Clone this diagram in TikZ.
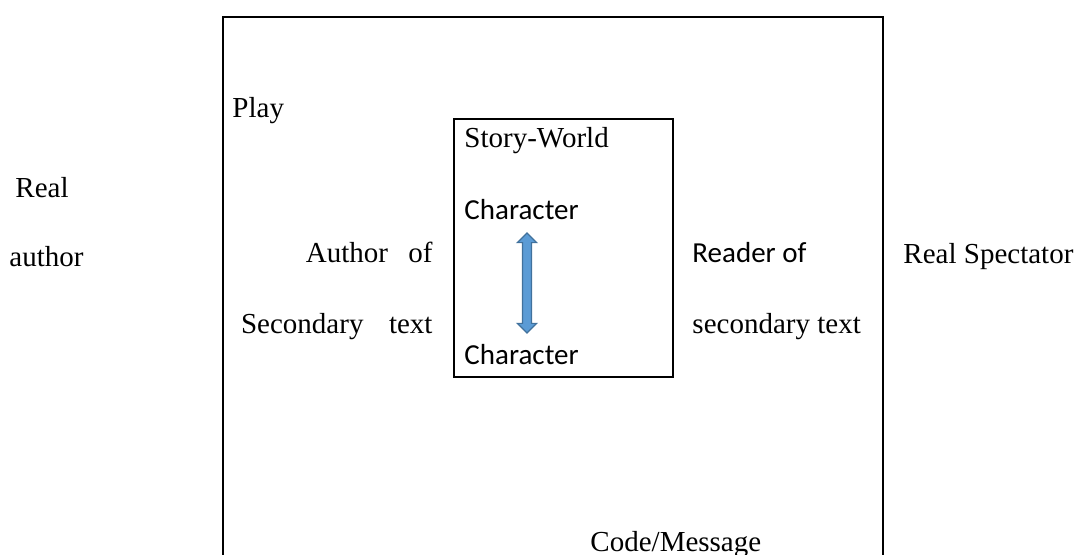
\documentclass[tikz,border=0pt]{standalone}
\usepackage{fontspec}
\setmainfont{Liberation Serif}
\newfontfamily\calibrifont{Carlito}
\usetikzlibrary{shapes.arrows}

\begin{document}
\begin{tikzpicture}[x=0.01454cm, y=-0.01454cm,
  every node/.style={font=\fontsize{12}{14}\selectfont, inner sep=0pt},
  txt/.style={anchor=base west},
  txtr/.style={anchor=base east},
  cal/.style={font=\fontsize{12}{14}\selectfont\calibrifont},
  frame/.style={draw=black, line width=0.8pt},
  link/.style={double arrow, rotate=90, draw=arrowEdge, fill=arrowFill,
    line width=0.5pt, inner xsep=0pt, inner ysep=1.65pt,
    minimum height=41.4pt, double arrow head extend=2.1pt}]

% Colori
\definecolor{arrowFill}{HTML}{5B9BD5}
\definecolor{arrowEdge}{HTML}{41719C}

% Area della figura
\useasboundingbox (0,0) rectangle (1077,555);

% Cornice esterna (aperta in basso)
\draw[frame] (223,556) -- (223,17) -- (883,17) -- (883,556);

% Cornice interna
\draw[frame] (454,119) rectangle (673,377);

% Etichette a sinistra
\node[txt] (real) at (15,197) {Real};
\node[txt] (author) at (9,266) {author};
\node[txt] (play) at (232,117) {Play};
\node[txtr] (authOf) at (433,262) {Author\hspace{0.7em}of};
\node[txtr] (secText) at (433,333) {Secondary\hspace{0.88em}text};

% Mondo della storia
\node[txt] (world) at (464,147) {Story-World};
\node[txt, cal] (charA) at (464,219) {Character};
\node[txt, cal] (charB) at (464,364) {Character};
\node[link] (bond) at (527,283) {};

% Etichette a destra
\node[txt, cal] (readOf) at (692,262) {Reader of};
\node[txt] (readSec) at (692,333) {secondary text};
\node[txt] (spect) at (903,263) {Real Spectator};

% Codice
\node[txt] (code) at (590,551) {Code/Message};
\end{tikzpicture}
\end{document}
